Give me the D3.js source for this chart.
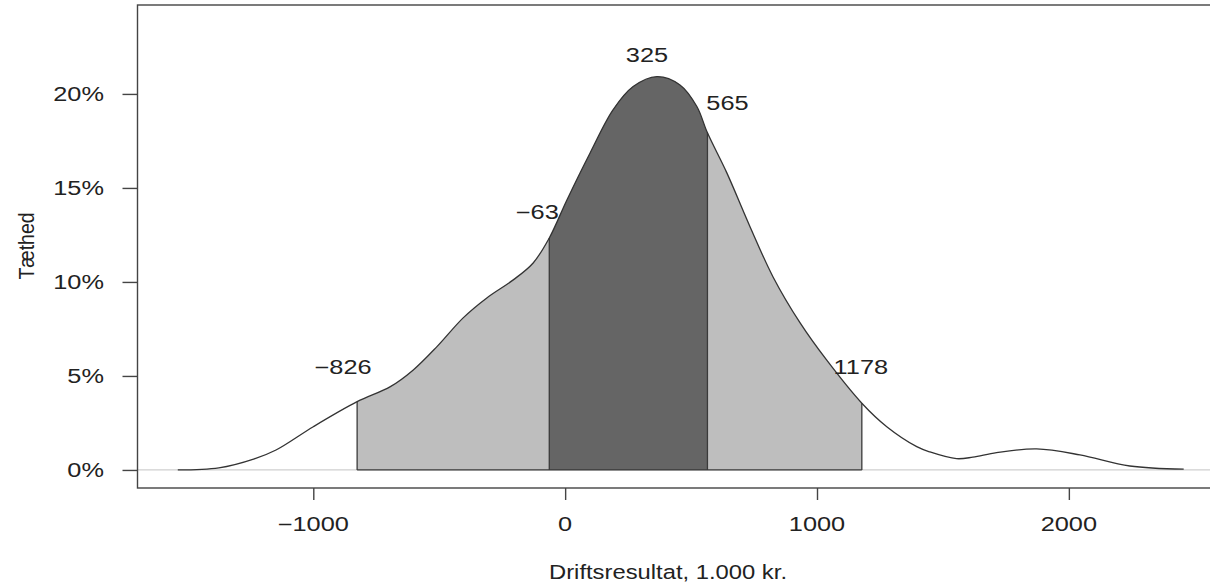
<!DOCTYPE html>
<html>
<head>
<meta charset="utf-8">
<script src="https://cdn.jsdelivr.net/npm/d3@7"></script>
<style>
    body { margin: 0; background: #fff; }
    svg text { font-family: "Liberation Sans", Arial, sans-serif; fill: #222; }
</style>
</head>
<body>
<svg id="chart" width="1210" height="583"></svg>
<script>
//
// density of driftsresultat with shaded quantile bands
//

// density curve (x in 1.000 kr., density in %)
const curve_x = [-1538, -1375, -1234, -1148, -1000, -826, -694, -603, -509, -405, -311, -206, -127, -63,
                 7, 99, 190, 270, 364, 456, 523, 565, 642, 734, 825, 933, 1038, 1178, 1277, 1396,
                 1448, 1554, 1619, 1713, 1872, 2044, 2242, 2456];
const curve_density = [0.0, 0.11, 0.59, 1.06, 2.30, 3.63, 4.43, 5.32, 6.56, 8.09, 9.15, 10.11, 11.01, 12.34,
                       14.36, 16.86, 19.15, 20.39, 20.92, 20.48, 19.33, 17.93, 15.80, 12.94, 10.28, 7.82, 5.85, 3.55, 2.30, 1.24,
                       0.96, 0.60, 0.68, 0.92, 1.12, 0.80, 0.21, 0.04];

// quantile bands
const outer_band = [-826, 1178];
const inner_band = [-63, 565];

// annotated values and the height (density %) their labels sit at
const label_values = [-826, -63, 325, 565, 1178];
const label_heights = [5.5, 13.74, 22.07, 19.52, 5.5];

const x_ticks = [-1000, 0, 1000, 2000];
const y_ticks = [0, 5, 10, 15, 20];

const x_title = 'Driftsresultat, 1.000 kr.';
const y_title = 'Tæthed';

// layout
const plot = {left: 137.5, top: 5, right: 1224, bottom: 488};
const stretch = 1.3;          // the reference text is drawn wide
const font_size = 19.5;
const label_dx = [-14, -12, 0, 20, -1];

const svg = d3.select('#chart');

const xScale = d3.scaleLinear()
    .domain([-1698, 2616])
    .range([plot.left, plot.right]);

const yScale = d3.scaleLinear()
    .domain([-0.96, 24.73])
    .range([plot.bottom, plot.top]);

const points = curve_x.map((x, i) => ({x: x, y: curve_density[i]}));
const density_at = (v) => curve_density[curve_x.indexOf(v)];

const smooth = d3.curveCatmullRom.alpha(0.5);

const area = d3.area()
    .x((d) => xScale(d.x))
    .y0(yScale(0))
    .y1((d) => yScale(d.y))
    .curve(smooth);

const line = d3.line()
    .x((d) => xScale(d.x))
    .y((d) => yScale(d.y))
    .curve(smooth);

// clip paths for the bands
const defs = svg.append('defs');
[['outer', outer_band], ['inner', inner_band]].forEach(([id, band]) => {
    defs.append('clipPath')
        .attr('id', 'clip-' + id)
        .append('rect')
        .attr('x', xScale(band[0]))
        .attr('y', plot.top)
        .attr('width', xScale(band[1]) - xScale(band[0]))
        .attr('height', yScale(0) - plot.top);
});

// zero line
svg.append('line')
    .attr('x1', plot.left)
    .attr('x2', plot.right)
    .attr('y1', yScale(0))
    .attr('y2', yScale(0))
    .attr('stroke', '#cfcfcf')
    .attr('stroke-width', 1.3);

svg.append('path')
    .datum(points)
    .attr('d', area)
    .attr('fill', '#bebebe')
    .attr('clip-path', 'url(#clip-outer)');

svg.append('path')
    .datum(points)
    .attr('d', area)
    .attr('fill', '#656565')
    .attr('clip-path', 'url(#clip-inner)');

// band borders
const band_edges = outer_band.concat(inner_band);
svg.selectAll('.edge')
    .data(band_edges)
    .enter()
    .append('line')
    .attr('class', 'edge')
    .attr('x1', (d) => xScale(d))
    .attr('x2', (d) => xScale(d))
    .attr('y1', yScale(0))
    .attr('y2', (d) => yScale(density_at(d)))
    .attr('stroke', '#3a3a3a')
    .attr('stroke-width', 1.3);

svg.append('line')
    .attr('x1', xScale(outer_band[0]))
    .attr('x2', xScale(outer_band[1]))
    .attr('y1', yScale(0))
    .attr('y2', yScale(0))
    .attr('stroke', '#3a3a3a')
    .attr('stroke-width', 1.3);

svg.append('path')
    .datum(points)
    .attr('d', line)
    .attr('fill', 'none')
    .attr('stroke', '#333')
    .attr('stroke-width', 1.3);

// value labels
svg.selectAll('.value')
    .data(label_values)
    .enter()
    .append('text')
    .attr('class', 'value')
    .attr('transform', (d, i) => `translate(${xScale(d) + label_dx[i]}, ${yScale(label_heights[i])}) scale(${stretch}, 1)`)
    .attr('dy', '0.36em')
    .attr('text-anchor', 'middle')
    .style('font-size', font_size + 'px')
    .text((d) => d < 0 ? '\u2212' + Math.abs(d) : '' + d);

// frame
svg.append('rect')
    .attr('x', plot.left)
    .attr('y', plot.top)
    .attr('width', plot.right - plot.left)
    .attr('height', plot.bottom - plot.top)
    .attr('fill', 'none')
    .attr('stroke', '#444')
    .attr('stroke-width', 1.4);

// axes
const xAxis = svg.append('g')
    .attr('transform', `translate(0, ${plot.bottom})`)
    .call(d3.axisBottom(xScale).tickValues(x_ticks).tickSize(12).tickFormat(''));
xAxis.select('.domain').remove();
xAxis.selectAll('line').attr('stroke', '#444').attr('stroke-width', 1.4);

svg.selectAll('.xlab')
    .data(x_ticks)
    .enter()
    .append('text')
    .attr('class', 'xlab')
    .attr('transform', (d) => `translate(${xScale(d)}, 531) scale(${stretch}, 1)`)
    .attr('text-anchor', 'middle')
    .style('font-size', font_size + 'px')
    .text((d) => d < 0 ? '\u2212' + Math.abs(d) : '' + d);

const yAxis = svg.append('g')
    .attr('transform', `translate(${plot.left}, 0)`)
    .call(d3.axisLeft(yScale).tickValues(y_ticks).tickSize(15).tickFormat(''));
yAxis.select('.domain').remove();
yAxis.selectAll('line').attr('stroke', '#444').attr('stroke-width', 1.4);

svg.selectAll('.ylab')
    .data(y_ticks)
    .enter()
    .append('text')
    .attr('class', 'ylab')
    .attr('transform', (d) => `translate(104, ${yScale(d)}) scale(${stretch}, 1)`)
    .attr('dy', '0.36em')
    .attr('text-anchor', 'end')
    .style('font-size', font_size + 'px')
    .text((d) => d + '%');

// axis titles
svg.append('text')
    .attr('transform', `translate(668, 579) scale(1.22, 1)`)
    .attr('text-anchor', 'middle')
    .style('font-size', font_size + 'px')
    .text(x_title);

svg.append('text')
    .attr('transform', `translate(34, 246) rotate(-90) scale(1, 1.15)`)
    .attr('text-anchor', 'middle')
    .style('font-size', font_size + 'px')
    .text(y_title);
</script>
</body>
</html>
